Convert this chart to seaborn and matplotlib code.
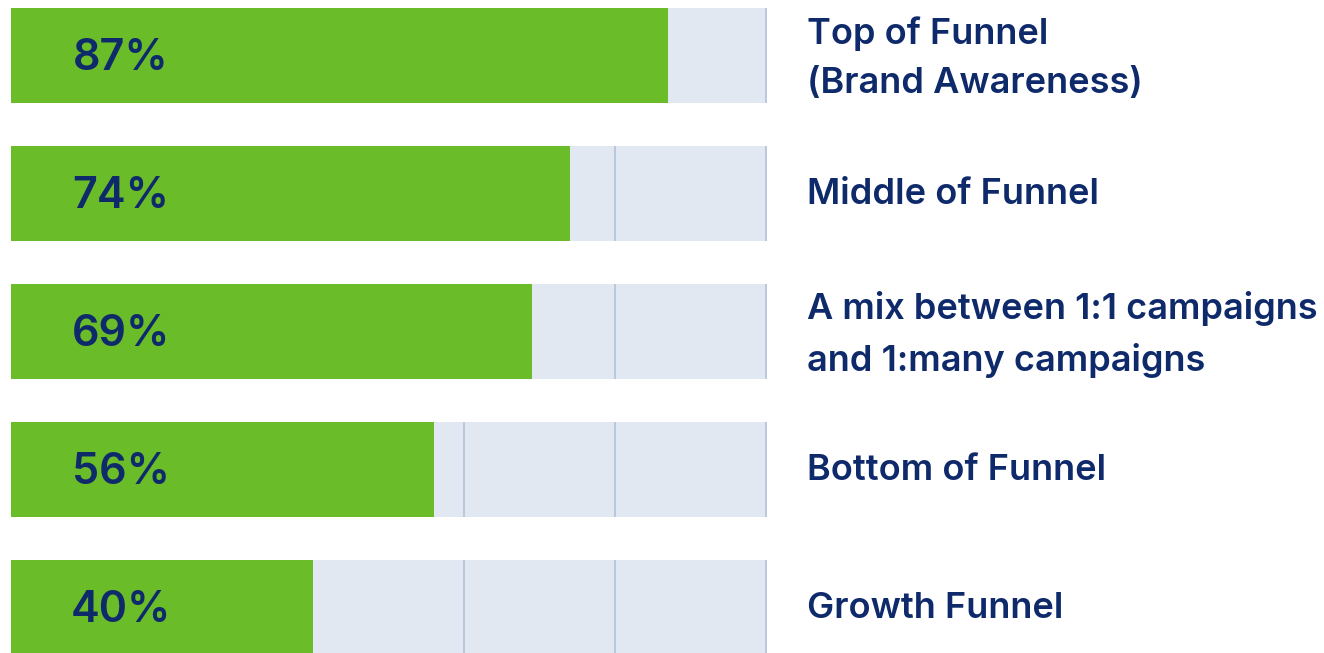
import matplotlib
matplotlib.use("Agg")
import matplotlib.pyplot as plt
import seaborn as sns
import pandas as pd

categories = [
    "Top of Funnel\n(Brand Awareness)",
    "Middle of Funnel",
    "A mix between 1:1 campaigns\nand 1:many campaigns",
    "Bottom of Funnel",
    "Growth Funnel",
]
shares = [87, 74, 69, 56, 40]
full_scale = [100, 100, 100, 100, 100]
grid_marks = [60, 80, 100]

GREEN = "#6abd29"
TRACK = "#e1e8f2"
GRID = "#b9c8de"
NAVY = "#0f2a6b"

sns.set_theme(style="white")
plt.rcParams["font.family"] = ["Inter", "DejaVu Sans"]

df = pd.DataFrame({"category": categories, "share": shares, "full": full_scale})

fig = plt.figure(figsize=(13.24, 6.53), dpi=100)
ax = fig.add_axes([0, 0, 1, 1])

bar_w = 0.688
sns.barplot(data=df, y="category", x="full", color=TRACK, width=bar_w,
            saturation=1, orient="h", ax=ax, zorder=1, linewidth=0)

# thin reference lines, only visible inside the track
for i in range(len(categories)):
    ax.vlines(grid_marks, i - bar_w / 2, i + bar_w / 2, color=GRID,
              linewidth=1.4, zorder=1.5)

sns.barplot(data=df, y="category", x="share", color=GREEN, width=bar_w,
            saturation=1, orient="h", ax=ax, zorder=2, linewidth=0)

for i, (cat, val) in enumerate(zip(categories, shares)):
    ax.text(14.6, i + 0.025, f"{val}%", ha="center", va="center",
            fontsize=31, fontweight="semibold", color=NAVY, zorder=3)
    dy = 0.02 if "\n" in cat else 0.01
    ax.text(105.4, i + dy, cat, ha="left", va="center", fontsize=26,
            fontweight="semibold", color=NAVY, linespacing=1.62, zorder=3)

ax.set_xlim(-1.457, 173.9)
ax.set_ylim(4.33, -0.402)
ax.set_axis_off()

fig.savefig("out.png", dpi=100, facecolor="white")
